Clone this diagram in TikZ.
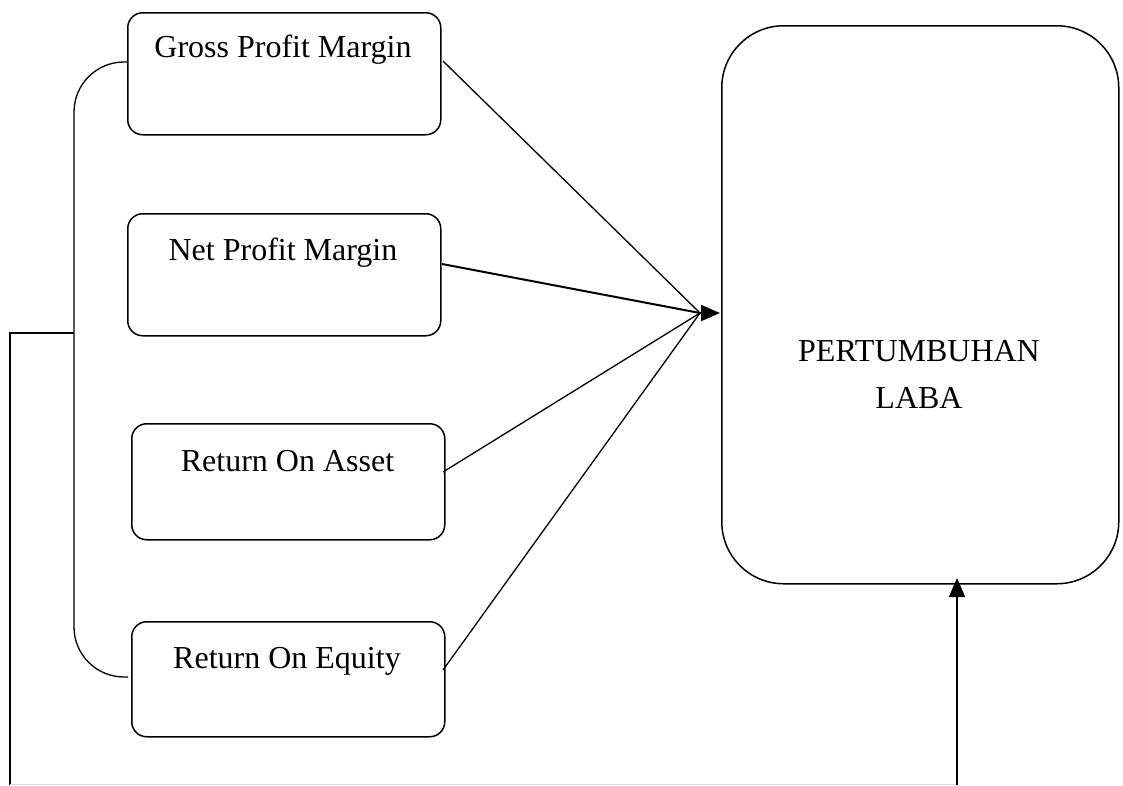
\documentclass[tikz,border=0pt]{standalone}
\usepackage{fontspec}
\setmainfont{Liberation Serif}
\usetikzlibrary{arrows.meta}
\tikzset{
  box/.style={draw, line width=1.5pt, rounded corners=15pt, inner sep=0pt, anchor=north west},
  bigbox/.style={draw, line width=1.5pt, rounded corners=62pt, inner sep=0pt, anchor=north west},
  txt/.style={inner sep=0pt, anchor=base, font=\fontsize{32}{38}\selectfont},
  conn/.style={line width=1.3pt},
  thick conn/.style={line width=2pt},
  tip/.style={-{Triangle[length=19pt,width=16pt]}},
}
\begin{document}
\begin{tikzpicture}[x=1pt,y=-1pt]
\useasboundingbox (0,0) rectangle (1123,785);
% boxes
\node[box, minimum width=313pt, minimum height=122pt] (gpm) at (127,12) {};
\node[box, minimum width=313pt, minimum height=122pt] (npm) at (127,213) {};
\node[box, minimum width=313pt, minimum height=116pt] (roa) at (131,423) {};
\node[box, minimum width=313pt, minimum height=115pt] (roe) at (131,621) {};
\node[bigbox, minimum width=397pt, minimum height=558pt] (pl) at (721,25) {};
% texts
\node[txt] (gpmt) at (283,57) {Gross Profit Margin};
\node[txt] (npmt) at (283,260) {Net Profit Margin};
\node[txt] (roat) at (287.5,471) {Return On Asset};
\node[txt] (roet) at (287,668) {Return On Equity};
\node[txt] (plt1) at (919,361) {PERTUMBUHAN};
\node[txt] (plt2) at (919,408) {LABA};
% coordinates
\coordinate (hub) at (700,313);
\coordinate (tipend) at (720,313);
\coordinate (gpmo) at (443,61);
\coordinate (npmo) at (442,264);
\coordinate (roao) at (443,472);
\coordinate (roeo) at (443,670);
\coordinate (bt) at (127,62);
\coordinate (bb) at (128,677);
\coordinate (bm) at (74,333);
\coordinate (lc) at (10,333);
\coordinate (lb) at (10,785);
\coordinate (rb) at (957,785);
\coordinate (rt) at (957,578);
% connectors to the result box
\draw[conn] (gpmo) -- (hub);
\draw[thick conn] (npmo) -- (hub);
\draw[conn] (roao) -- (hub);
\draw[conn] (roeo) -- (hub);
\draw[thick conn, tip] (hub) -- (tipend);
% bracket
\draw[conn] (bt) -- (124,62) arc[start angle=90, end angle=180, radius=50pt] -- (74,627) arc[start angle=180, end angle=270, radius=50pt] -- (bb);
% feedback line
\draw[thick conn] (bm) -- (lc) -- (lb);
\draw[line width=1pt, black!15] (10,784.3) -- (957,784.3);
\draw[thick conn, tip] (rb) -- (rt);
\end{tikzpicture}
\end{document}
